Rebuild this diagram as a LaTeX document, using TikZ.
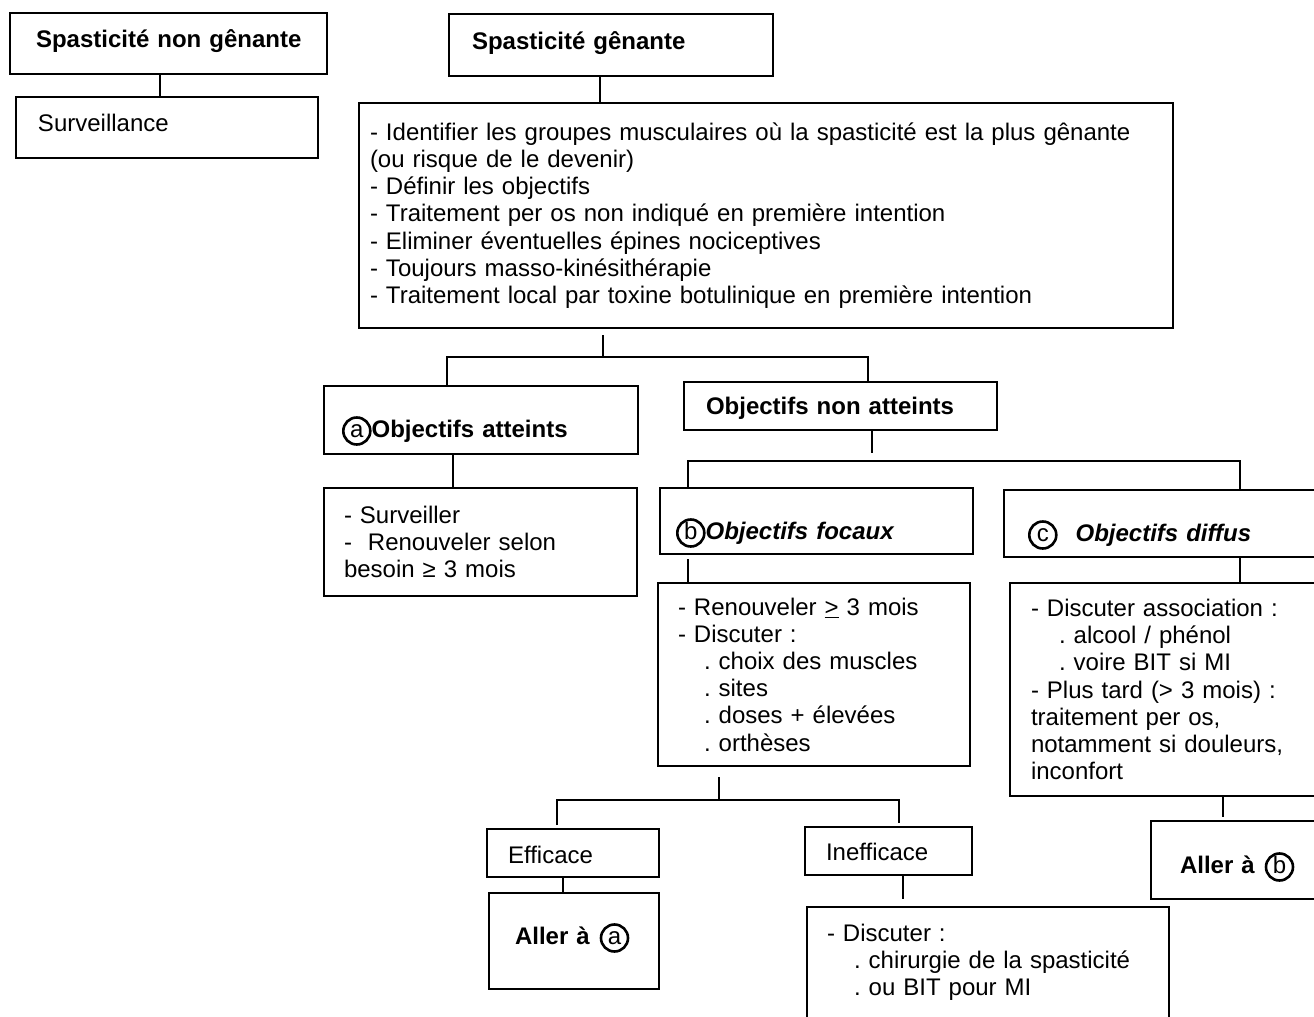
\documentclass[tikz,border=0pt]{standalone}
\usepackage{fontspec}
\setmainfont{Liberation Sans}
\newcommand{\rond}[1]{\tikz[baseline=(rl.base)]\node[draw, circle, line width=1.3pt, inner sep=0pt,
  minimum size=13.5pt, text width=, text height=6pt, text depth=0pt, align=center, anchor=center,
  font=\fontsize{12}{12}\selectfont\mdseries\upshape] (rl) {#1};}
\tikzset{
  box/.style={draw, line width=1pt, anchor=north west, align=left, inner ysep=0pt,
    font=\fontsize{12}{13.6}\selectfont\frenchspacing},
  lien/.style={line width=1pt},
}

\begin{document}
\begin{tikzpicture}[x=0.5pt, y=-0.5pt]
\useasboundingbox (0,0) rectangle (1314,1017);
\clip (0,0) rectangle (1314,1017);

% spasticite non genante
\node[box, minimum width=158.5pt, minimum height=30.5pt, inner xsep=13pt, text width=132.5pt, text height=9.5pt, text depth=5.5pt] (sng) at (9,12) {\mbox{\bfseries Spasticité non gênante}};
\node[box, minimum width=151pt, minimum height=30.5pt, inner xsep=11pt, text width=129pt, text height=8.5pt, text depth=5pt] (surv) at (15,96) {Surveillance};

% spasticite genante
\node[box, minimum width=162pt, minimum height=31pt, inner xsep=11.5pt, text width=139pt, text height=10pt, text depth=6pt] (sg) at (448,13) {\mbox{\bfseries Spasticité gênante}};
\node[box, minimum width=407pt, minimum height=112.5pt, inner xsep=5.5pt, text width=396pt] (main) at (358,102) {- Identifier les groupes musculaires où la spasticité est la plus gênante\\
(ou risque de le devenir)\\
- Définir les objectifs\\
- Traitement per os non indiqué en première intention\\
- Eliminer éventuelles épines nociceptives\\
- Toujours masso-kinésithérapie\\
- Traitement local par toxine botulinique en première intention};

% objectifs
\node[box, minimum width=157pt, minimum height=34pt, inner xsep=9pt, text width=139pt, text height=22pt, text depth=5pt] (att) at (323,385) {\mbox{\rond{a}\bfseries Objectifs atteints}};
\node[box, minimum width=156.5pt, minimum height=24pt, inner xsep=11pt, text width=134.5pt, text height=10pt, text depth=2pt] (nonatt) at (683,381) {\mbox{\bfseries Objectifs non atteints}};
\node[box, minimum width=156.5pt, minimum height=54pt, inner xsep=10pt, text width=136.5pt] (surveiller) at (323,487) {- Surveiller\\
-\ \ Renouveler selon\\
besoin ≥ 3 mois};
\node[box, minimum width=156.5pt, minimum height=33pt, inner xsep=8pt, text width=140.5pt, text height=22pt, text depth=4pt] (focaux) at (659,487) {\mbox{\rond{b}\bfseries\itshape Objectifs focaux}};
\node[box, minimum width=163.5pt, minimum height=33.5pt, inner xsep=12pt, text width=139.5pt, text height=22pt, text depth=4.5pt] (diffus) at (1003,489) {\mbox{\rond{c}\hspace{9pt}\bfseries\itshape Objectifs diffus}};

% focaux
\node[box, minimum width=156pt, minimum height=91.5pt, inner xsep=10pt, text width=136pt] (renouv) at (657,582) {- Renouveler \underline{>} 3 mois\\
- Discuter :\\
\hspace*{13pt}. choix des muscles\\
\hspace*{13pt}. sites\\
\hspace*{13pt}. doses + élevées\\
\hspace*{13pt}. orthèses};
\node[box, minimum width=86pt, minimum height=24pt, inner xsep=10.5pt, text width=65pt, text height=10pt, text depth=0pt] (eff) at (486,828) {Efficace};
\node[box, minimum width=83.5pt, minimum height=24pt, inner xsep=10.5pt, text width=62.5pt, text height=10pt, text depth=1pt] (ineff) at (804,826) {Inefficace};
\node[box, minimum width=85pt, minimum height=48pt, inner xsep=13pt, text width=59pt, text height=12pt, text depth=9pt] (allera) at (488,892) {\mbox{\bfseries Aller à\hspace{5pt}\rond{a}}};
\node[box, minimum width=181pt, minimum height=65pt, inner xsep=10pt, text width=161pt, text height=9pt, text depth=40pt] (chir) at (806,906) {- Discuter :\\
\hspace*{13.5pt}. chirurgie de la spasticité\\
\hspace*{13.5pt}. ou BIT pour MI};

% diffus
\node[box, minimum width=160.5pt, minimum height=106.5pt, inner xsep=10.5pt, text width=139.5pt] (difftxt) at (1009,582) {- Discuter association :\\
\hspace*{14pt}. alcool / phénol\\
\hspace*{14pt}. voire BIT si MI\\
- Plus tard (> 3 mois) :\\
traitement per os,\\
notamment si douleurs,\\
inconfort};
\node[box, minimum width=90pt, minimum height=39pt, inner xsep=14.5pt, text width=61pt, text height=18pt, text depth=5pt] (allerb) at (1150,820) {\mbox{\bfseries Aller à\hspace{5pt}\rond{b}}};

% reperes des liaisons
\coordinate (cA) at (160,0);
\coordinate (cB) at (600,0);
\coordinate (cC) at (453,0);
\coordinate (cF) at (563,0);
\coordinate (cG) at (903,0);
\coordinate (cH) at (1223,0);
\coordinate (j1) at (603,357);
\coordinate (j1l) at (447,357);
\coordinate (j1r) at (868,357);
\coordinate (j2) at (872,461);
\coordinate (j2l) at (688,461);
\coordinate (j2r) at (1240,461);
\coordinate (j3) at (719,800);
\coordinate (j3l) at (557,800);
\coordinate (j3r) at (899,800);

% liaisons
\draw[lien] (sng.south -| cA) -- (surv.north -| cA);
\draw[lien] (sg.south -| cB) -- (main.north -| cB);
\draw[lien, shorten <=3pt] (main.south -| j1) -- (j1);
\draw[lien] (att.north -| j1l) -- (j1l) -- (j1r) -- (nonatt.north -| j1r);
\draw[lien] (att.south -| cC) -- (surveiller.north -| cC);
\draw[lien, shorten >=4pt] (nonatt.south -| j2) -- (j2);
\draw[lien] (focaux.north -| j2l) -- (j2l) -- (j2r) -- (diffus.north -| j2r);
\draw[lien, shorten <=2pt] (focaux.south -| j2l) -- (renouv.north -| j2l);
\draw[lien] (diffus.south -| j2r) -- (difftxt.north -| j2r);
\draw[lien, shorten <=5pt] (renouv.south -| j3) -- (j3);
\draw[lien, shorten <=1.5pt, shorten >=1.5pt] (eff.north -| j3l) -- (j3l) -- (j3r) -- (ineff.north -| j3r);
\draw[lien] (eff.south -| cF) -- (allera.north -| cF);
\draw[lien, shorten >=3.5pt] (ineff.south -| cG) -- (chir.north -| cG);
\draw[lien, shorten >=1.5pt] (difftxt.south -| cH) -- (allerb.north -| cH);
\end{tikzpicture}
\end{document}
